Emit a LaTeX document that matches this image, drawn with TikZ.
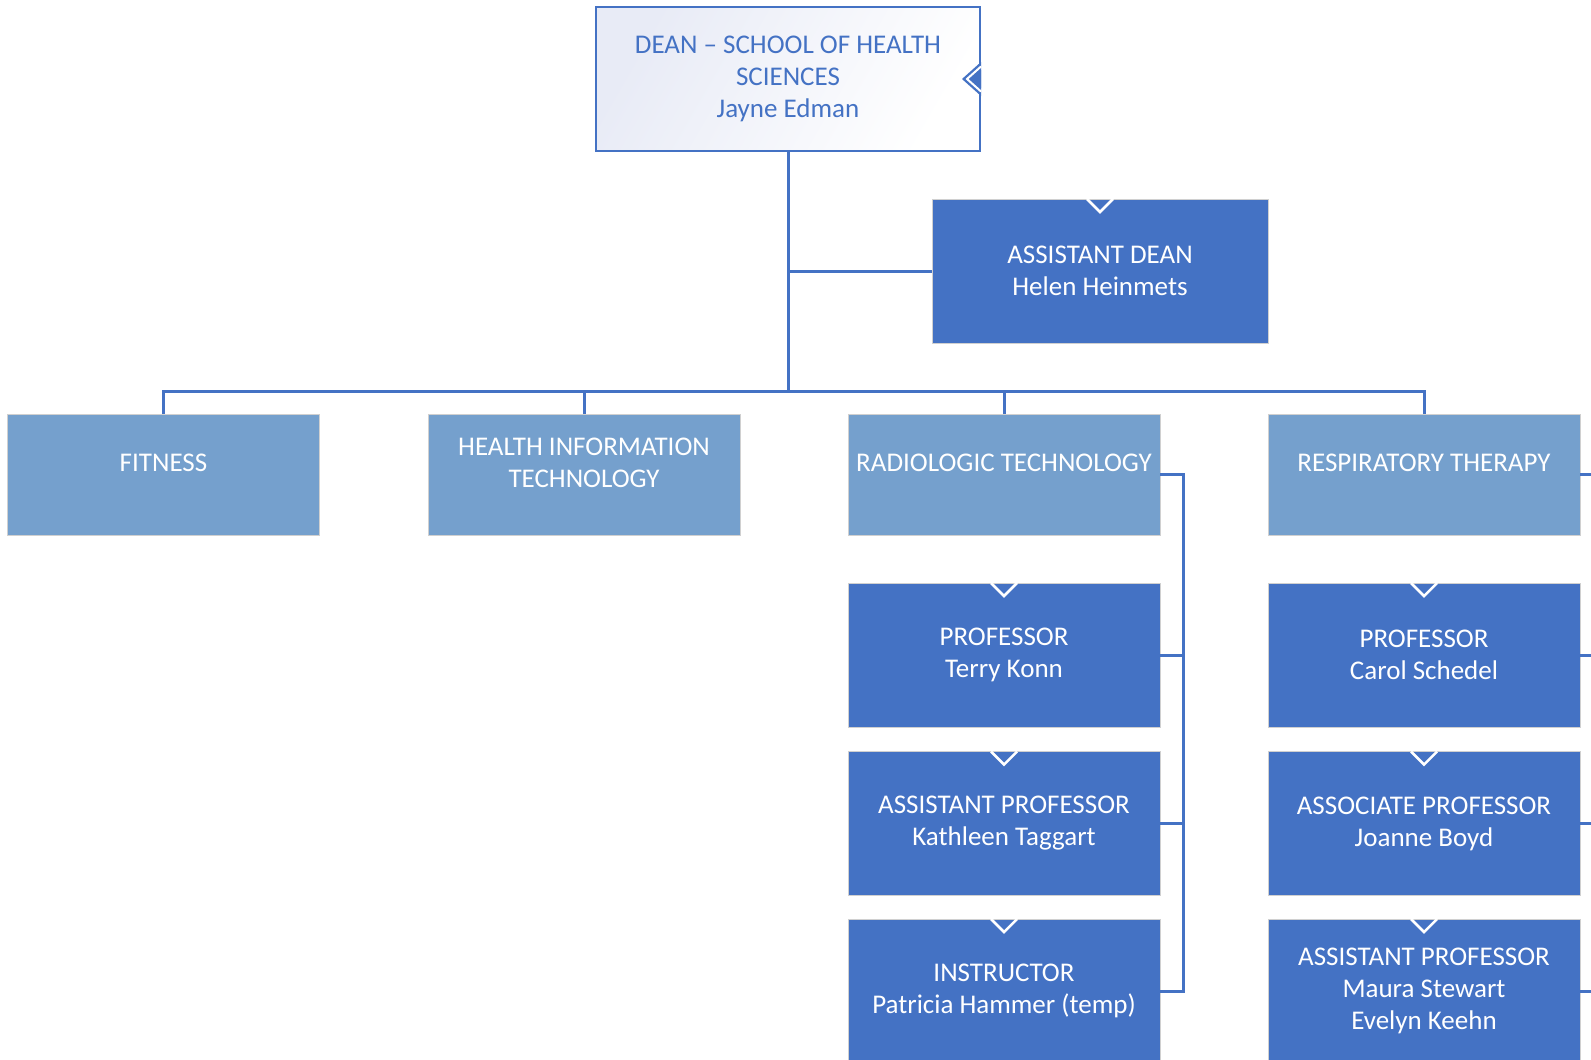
\documentclass[tikz,border=0pt]{standalone}
\usepackage{fontspec}
\setmainfont{Carlito}
\usetikzlibrary{calc}
\definecolor{cone}{RGB}{68,114,196}
\definecolor{ctwo}{RGB}{117,160,205}
\definecolor{cbord}{RGB}{208,208,208}
\definecolor{cgrad}{RGB}{232,235,246}
\tikzset{
  lowered/.style={execute at begin node={\rule{0pt}{23pt}}},
  boxbase/.style={rectangle, inner sep=0pt, outer sep=0pt, line width=1pt, draw=cbord},
  lvltwo/.style={boxbase, fill=ctwo, minimum width=312pt, minimum height=121pt},
  lvlthree/.style={boxbase, fill=cone, minimum width=312pt, minimum height=144pt,
     text=white, align=center, font=\fontsize{27}{32}\selectfont, lowered},
  adbox/.style={boxbase, fill=cone, minimum width=336pt, minimum height=144pt,
     text=white, align=center, font=\fontsize{27}{32}\selectfont, lowered},
  deanbox/.style={rectangle, inner sep=0pt, outer sep=0pt, line width=2pt, draw=cone,
     left color=cgrad, right color=white, shading angle=60,
     minimum width=384pt, minimum height=144pt,
     text=cone, align=center, font=\fontsize{27}{32}\selectfont, lowered},
  ltext/.style={text=white, align=center, inner sep=0pt, font=\fontsize{27}{32}\selectfont},
  conn/.style={draw=cone, line width=3pt, line join=miter},
  notchline/.style={draw=white, line width=2.5pt, line join=miter}
}
\newcommand\topnotch[1]{%
  \draw[notchline] ($(#1.north)+(-13,0)$) -- ($(#1.north)+(0,13)$) -- ($(#1.north)+(13,0)$);}
\begin{document}
\begin{tikzpicture}[x=1pt,y=-1pt]
\clip (0,0) rectangle (1591,1060);
\fill[white] (0,0) rectangle (1591,1060);

% dean and assistant dean
\node[deanbox] (dean) at (788,79) {DEAN -- SCHOOL OF HEALTH\\SCIENCES\\Jayne Edman};
\node[adbox] (adean) at (1100,271) {ASSISTANT DEAN\\Helen Heinmets};

% level two
\node[lvltwo] (fit) at (163.5,474.5) {};
\node[lvltwo] (hit) at (584,474.5) {};
\node[lvltwo] (rad) at (1004,474.5) {};
\node[lvltwo] (resp) at (1424,474.5) {};
\node[ltext] (fitT) at (163.5,463) {FITNESS};
\node[ltext] (hitT) at (584,463) {HEALTH INFORMATION\\TECHNOLOGY};
\node[ltext] (radT) at (1004,463) {RADIOLOGIC TECHNOLOGY};
\node[ltext] (respT) at (1424,463) {RESPIRATORY THERAPY};

% level three
\node[lvlthree] (rprof) at (1004,655) {PROFESSOR\\Terry Konn};
\node[lvlthree] (rasst) at (1004,823.5) {ASSISTANT PROFESSOR\\Kathleen Taggart};
\node[lvlthree] (rinst) at (1004,991) {INSTRUCTOR\\Patricia Hammer (temp)};
\node[lvlthree] (sprof) at (1424,655) {PROFESSOR\\Carol Schedel};
\node[lvlthree] (sassoc) at (1424,823.5) {ASSOCIATE PROFESSOR\\Joanne Boyd};
\node[lvlthree] (sasst) at (1424,991) {ASSISTANT PROFESSOR\\Maura Stewart\\Evelyn Keehn};

% connectors
\coordinate (hub) at (788,391);
\draw[conn] (dean.south) -- (hub);
\draw[conn] (dean.south) |- (adean.west);
\draw[conn] (fit.north) |- (hub);
\draw[conn] (hit.north) |- (hub);
\draw[conn] (rad.north) |- (hub);
\draw[conn] (resp.north) |- (hub);

\coordinate (rv) at ($(rad.east)+(23,0)$);
\draw[conn] (rad.east) -- (rv) |- (rinst.east);
\draw[conn] (rv) |- (rprof.east);
\draw[conn] (rv) |- (rasst.east);

\coordinate (sv) at ($(resp.east)+(23,0)$);
\draw[conn] (resp.east) -- (sv) |- (sasst.east);
\draw[conn] (sv) |- (sprof.east);
\draw[conn] (sv) |- (sassoc.east);

% notches
\topnotch{adean}
\topnotch{rprof}
\topnotch{rasst}
\topnotch{rinst}
\topnotch{sprof}
\topnotch{sassoc}
\topnotch{sasst}
\fill[cone] (981,62) -- (962,79) -- (981,96) -- cycle;
\draw[notchline, line width=2pt] (981,66.5) -- (967,79) -- (981,91.5);
\fill[cone] (981,70) -- (971,79) -- (981,88) -- cycle;
\end{tikzpicture}
\end{document}
